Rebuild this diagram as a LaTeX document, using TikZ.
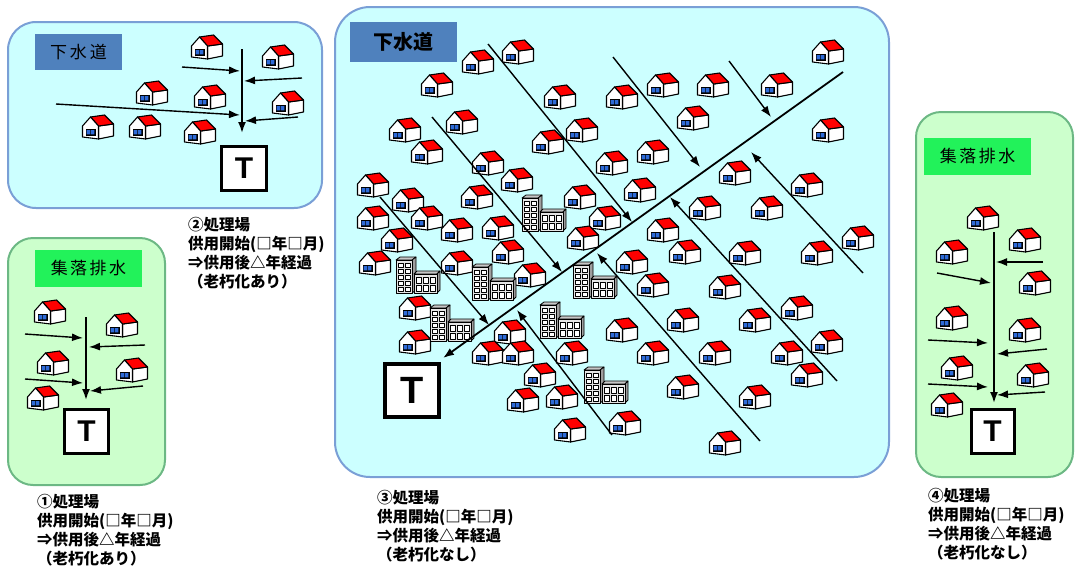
\documentclass[tikz,border=0pt]{standalone}
\usepackage{fontspec}
\setmainfont{Liberation Sans}
\newfontfamily\jp{Noto Sans CJK JP}
\usetikzlibrary{arrows.meta}

\definecolor{skyfill}{HTML}{CCFFFF}
\definecolor{skyedge}{HTML}{7A9FD6}
\definecolor{leaffill}{HTML}{CCFFCC}
\definecolor{leafedge}{HTML}{6CB884}
\definecolor{titleblue}{HTML}{4F81BD}
\definecolor{titlegreen}{HTML}{22F25A}
\definecolor{roofred}{HTML}{FF0000}
\definecolor{pane}{HTML}{2F6BD8}

\tikzset{
  x=1pt, y=-1pt,
  skypanel/.style={fill=skyfill, draw=skyedge, line width=2pt},
  leafpanel/.style={fill=leaffill, draw=leafedge, line width=2pt},
  bluetitle/.style={fill=titleblue, inner sep=0, text=black},
  greentitle/.style={fill=titlegreen, inner sep=0, text=black},
  plant/.style={draw=black, fill=white, inner sep=0, font=\bfseries},
  pipe/.style={line width=1.8pt, -{Latex[length=11pt,width=8pt]}},
  feed/.style={line width=1.4pt, -{Latex[length=11pt,width=8pt]}},
  note/.style={anchor=base west, inner sep=0, font=\jp\bfseries\fontsize{15.5}{18.5}\selectfont},
  house/.pic={
    \begin{scope}[shift={(-15.5,-13)}, line width=1.1pt, line join=round]
      \filldraw[fill=white] (16,12) -- (31,10) -- (31,22) -- (16,25) -- cycle;
      \filldraw[fill=roofred] (8,3) -- (22,1) -- (31,10) -- (16,12) -- cycle;
      \filldraw[fill=white] (0,12) -- (8,3) -- (16,12) -- (16,25) -- (0,23) -- cycle;
      \fill[black] (3,15) rectangle (13,21.5);
      \fill[pane] (4.2,16.2) rectangle (7.6,20.3) (8.4,16.2) rectangle (11.8,20.3);
    \end{scope}
  },
  building/.pic={
    \begin{scope}[shift={(-22,-18)}, line width=0.8pt, line join=round]
      % tower
      \filldraw[fill=gray!45] (0,3) -- (4,0) -- (20,0) -- (16,3) -- cycle;
      \filldraw[fill=gray!75] (16,3) -- (20,0) -- (20,33) -- (16,36) -- cycle;
      \filldraw[fill=gray!20] (0,3) rectangle (16,36);
      \foreach \i in {0,1} \foreach \j in {0,...,4}
        \filldraw[fill=white, line width=0.5pt] (2+\i*7,6+\j*6) rectangle ++(5,4);
      % low block
      \filldraw[fill=gray!45] (18,17) -- (21,14) -- (44,14) -- (41,17) -- cycle;
      \filldraw[fill=gray!75] (41,17) -- (44,14) -- (44,33) -- (41,36) -- cycle;
      \filldraw[fill=gray!20] (18,17) rectangle (41,36);
      \foreach \i in {0,1,2} \foreach \j in {0,1}
        \filldraw[fill=white, line width=0.5pt] (20+\i*7,20+\j*8) rectangle ++(5,6);
    \end{scope}
  }
}

\begin{document}
\begin{tikzpicture}
\useasboundingbox (0,0) rectangle (1080,566);

% ---------- panel 1: small sewer district ----------
\draw[skypanel, rounded corners=28pt] (8,22) rectangle (322,208);
\node[bluetitle, minimum width=87pt, minimum height=36pt] (title1) at (78.5,52)
  {\jp\fontsize{17}{17}\selectfont 下\kern3pt 水\kern3pt 道};
\foreach \p in {(207,47),(278,57),(152,93),(210,97),(288,103),(98,127),(145,127),(200,132)}
  \pic at \p {house};
\node[plant, line width=3pt, minimum width=45pt, minimum height=44pt,
      font=\bfseries\fontsize{30}{30}\selectfont] (T1) at (244,168.5) {T};
\coordinate (p1s) at (242,49);
\coordinate (p1t) at (242,133);
\draw[pipe] (p1s) -- (p1t);
\foreach \n/\xa/\ya/\xb/\yb in {a/182/67/240/71, b/302/78/244/81,
                                c/56/104/240/115, d/298/117/245/121} {
  \coordinate (f1\n-from) at (\xa,\ya);
  \coordinate (f1\n-to) at (\xb,\yb);
  \draw[feed] (f1\n-from) -- (f1\n-to);
}

% ---------- panel 2: small rural drainage ----------
\draw[leafpanel, rounded corners=25pt] (8,238) rectangle (165,485);
\node[greentitle, minimum width=107pt, minimum height=37pt] (title2) at (88.5,268.5)
  {\jp\fontsize{17}{17}\selectfont 集\kern2.5pt 落\kern2.5pt 排\kern2.5pt 水};
\foreach \p in {(50,312),(122,325),(53,363),(132,370),(43,398)}
  \pic at \p {house};
\node[plant, line width=3pt, minimum width=44pt, minimum height=44pt,
      font=\bfseries\fontsize{30}{30}\selectfont] (T2) at (86.5,431.5) {T};
\coordinate (p2s) at (86,317);
\coordinate (p2t) at (86,400);
\draw[pipe] (p2s) -- (p2t);
\foreach \n/\xa/\ya/\xb/\yb in {a/25/334/83/338, b/145/345/89/347,
                                c/25/379/83/383, d/143/386/90/391} {
  \coordinate (f2\n-from) at (\xa,\ya);
  \coordinate (f2\n-to) at (\xb,\yb);
  \draw[feed] (f2\n-from) -- (f2\n-to);
}

% ---------- panel 3: large sewer district ----------
\draw[skypanel, rounded corners=35pt] (335,7) rectangle (889,477);
\node[bluetitle, minimum width=107pt, minimum height=40pt] (title3) at (403.5,42)
  {\jp\bfseries\fontsize{20}{20}\selectfont 下水道};
\foreach \p in {(518,52),(478,62),(437,85),(560,97),(405,130),(462,122),(582,130),
  (548,142),(427,152),(488,163),(373,185),(517,180),(477,197),(408,200),(580,197),
  (373,218),(427,218),(457,230),(498,228),(828,52),(663,85),(713,85),(777,85),
  (622,97),(693,118),(828,130),(653,152),(612,163),(735,173),(640,190),(807,185),
  (705,208),(767,208),(605,218),(663,230),(858,238),(397,240),(375,263),(457,263),
  (508,252),(583,238),(530,275),(415,308),(415,342),(510,332),(488,353),(518,353),
  (572,353),(540,375),(562,397),(523,400),(570,430),(685,252),(632,262),(745,253),
  (817,253),(653,285),(725,287),(797,308),(683,320),(622,330),(755,320),(827,342),
  (653,353),(715,353),(787,353),(807,375),(683,387),(755,397),(625,423),(725,443)}
  \pic at \p {house};
\foreach \p in {(544,213),(418,275),(494,282),(595,280),(452,323),(562,320),(606,385)}
  \pic at \p {building};
\node[plant, line width=4pt, minimum width=54pt, minimum height=53pt,
      font=\bfseries\fontsize{38}{38}\selectfont] (T3) at (412,390.5) {T};
\coordinate (trunk-from) at (843,72);
\coordinate (trunk-to) at (443,358);
\draw[pipe] (trunk-from) -- (trunk-to);
\foreach \n/\xa/\ya/\xb/\yb in {
    b1/380/197/489/325, b2/432/117/562/272, b3/488/44/632/222,
    b4/613/57/700/167,  b5/729/61/771/117,
    c1/612/435/517/310, c2/760/441/597/253, c3/837/381/670/197,
    c4/863/273/751/152} {
  \coordinate (\n-from) at (\xa,\ya);
  \coordinate (\n-to) at (\xb,\yb);
  \draw[feed] (\n-from) -- (\n-to);
}

% ---------- panel 4: rural drainage ----------
\draw[leafpanel, rounded corners=25pt] (916,112) rectangle (1073,477);
\node[greentitle, minimum width=107pt, minimum height=37pt] (title4) at (977.5,156.5)
  {\jp\fontsize{17}{17}\selectfont 集\kern2.5pt 落\kern2.5pt 排\kern2.5pt 水};
\foreach \p in {(983,218),(1025,240),(952,252),(1035,283),(952,318),(1025,330),
  (957,368),(1033,375),(947,405)}
  \pic at \p {house};
\node[plant, line width=3pt, minimum width=43pt, minimum height=44pt,
      font=\bfseries\fontsize{30}{30}\selectfont] (T4) at (992.5,431.5) {T};
\coordinate (p4s) at (994,232);
\coordinate (p4t) at (994,403);
\draw[pipe] (p4s) -- (p4t);
\foreach \n/\xa/\ya/\xb/\yb in {a/1043/262/996/262, b/937/273/991/283,
                                c/928/340/988/343, d/1047/349/997/354,
                                e/928/384/988/387, f/1045/392/997/395} {
  \coordinate (f4\n-from) at (\xa,\ya);
  \coordinate (f4\n-to) at (\xb,\yb);
  \draw[feed] (f4\n-from) -- (f4\n-to);
}

% ---------- plant notes ----------
\node[note] (note1) at (37,507.5) {\begin{tabular}[t]{@{}l@{}}
  ①処理場\\ 供用開始(□年□月)\\ ⇒供用後△年経過\\ （老朽化あり）\end{tabular}};
\node[note] (note2) at (188,230.5) {\begin{tabular}[t]{@{}l@{}}
  ②処理場\\ 供用開始(□年□月)\\ ⇒供用後△年経過\\ （老朽化あり）\end{tabular}};
\node[note] (note3) at (377,503.5) {\begin{tabular}[t]{@{}l@{}}
  ③処理場\\ 供用開始(□年□月)\\ ⇒供用後△年経過\\ （老朽化なし）\end{tabular}};
\node[note] (note4) at (928,501.5) {\begin{tabular}[t]{@{}l@{}}
  ④処理場\\ 供用開始(□年□月)\\ ⇒供用後△年経過\\ （老朽化なし）\end{tabular}};
\end{tikzpicture}
\end{document}
